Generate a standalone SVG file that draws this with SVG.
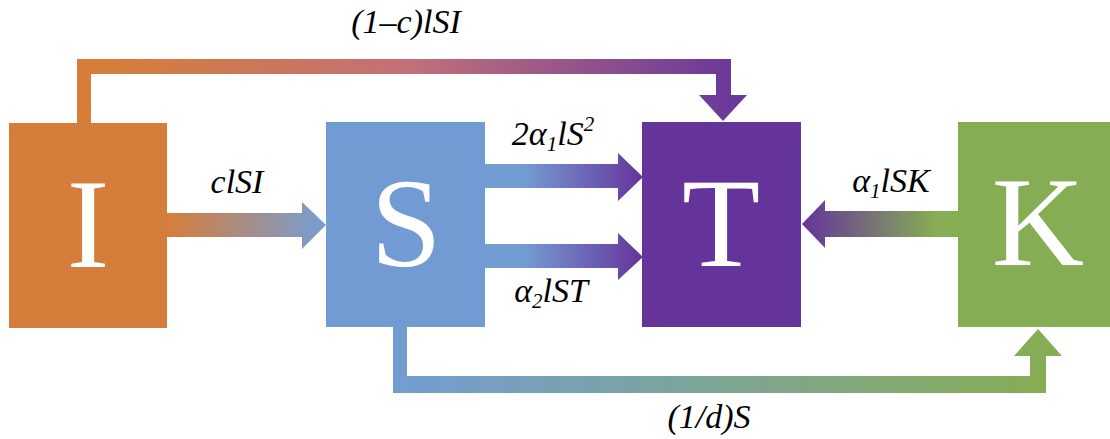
<svg xmlns="http://www.w3.org/2000/svg" width="1110" height="439" viewBox="0 0 1110 439">
<style>
.box-letter{font-family:"Liberation Serif","Times New Roman",serif;font-size:128px;fill:#ffffff;text-anchor:middle}
.lbl{font-family:"Liberation Serif","Times New Roman",serif;font-style:italic;font-size:34px;fill:#000000;text-anchor:middle}
.sub{font-size:21px}
</style>
<defs>
<linearGradient id="gTop" gradientUnits="userSpaceOnUse" x1="77" y1="0" x2="747" y2="0">
<stop offset="0.05" stop-color="#D67D3A"/>
<stop offset="0.5" stop-color="#C17079"/>
<stop offset="1" stop-color="#66369C"/>
</linearGradient>
<linearGradient id="gIS" gradientUnits="userSpaceOnUse" x1="167" y1="0" x2="326" y2="0">
<stop offset="0" stop-color="#D67D3A"/>
<stop offset="1" stop-color="#759ED6"/>
</linearGradient>
<linearGradient id="gST" gradientUnits="userSpaceOnUse" x1="485" y1="0" x2="643" y2="0">
<stop offset="0.25" stop-color="#739CD3"/>
<stop offset="1" stop-color="#65349A"/>
</linearGradient>
<linearGradient id="gKT" gradientUnits="userSpaceOnUse" x1="958" y1="0" x2="802" y2="0">
<stop offset="0.15" stop-color="#86AC54"/>
<stop offset="1" stop-color="#65349A"/>
</linearGradient>
<linearGradient id="gSK" gradientUnits="userSpaceOnUse" x1="393" y1="0" x2="1046" y2="0">
<stop offset="0" stop-color="#739CD3"/>
<stop offset="1" stop-color="#86AC54"/>
</linearGradient>
</defs>

<g id="connectors">
<path d="M77,123 L77,59 L731,59 L731,95 L747,95 L723,121 L699,95 L716,95 L716,74 L91,74 L91,123 Z" fill="url(#gTop)"/>
<path d="M167,213 L302,213 L302,202 L326,225 L302,249 L302,237 L167,237 Z" fill="url(#gIS)"/>
<path d="M485,164 L618,164 L618,153 L643,177 L618,201 L618,188 L485,188 Z" fill="url(#gST)"/>
<path d="M485,244 L618,244 L618,233 L643,257 L618,280 L618,268 L485,268 Z" fill="url(#gST)"/>
<path d="M958,211 L825,211 L825,200 L802,224 L825,248 L825,237 L958,237 Z" fill="url(#gKT)"/>
<path d="M393,326 L393,393 L1046,393 L1046,356 L1062,356 L1038,329 L1014,356 L1030,356 L1030,376 L407,376 L407,326 Z" fill="url(#gSK)"/>
<text class="lbl" x="406" y="33">(1–c)lSI</text>
<text class="lbl" x="237" y="193">clSI</text>
<text class="lbl" x="553" y="145">2α<tspan class="sub" dy="6">1</tspan><tspan dy="-6">lS</tspan><tspan class="sub" dy="-14">2</tspan></text>
<text class="lbl" x="551" y="302">α<tspan class="sub" dy="6">2</tspan><tspan dy="-6">lST</tspan></text>
<text class="lbl" x="891" y="192">α<tspan class="sub" dy="6">1</tspan><tspan dy="-6">lSK</tspan></text>
<text class="lbl" x="709" y="428">(1/d)S</text>
</g>

<g id="node-I">
<rect x="9" y="123" width="158" height="205" fill="#D57D3A"/>
<text class="box-letter" x="88" y="267">I</text>
</g>
<g id="node-S">
<rect x="326" y="122" width="159" height="205" fill="#729BD3"/>
<text class="box-letter" x="406" y="266">S</text>
</g>
<g id="node-T">
<rect x="642" y="122" width="159" height="205" fill="#64349B"/>
<text class="box-letter" x="721" y="266">T</text>
</g>
<g id="node-K">
<rect x="958" y="122" width="152" height="205" fill="#85AD53"/>
<text class="box-letter" x="1038" y="265">K</text>
</g>
</svg>
